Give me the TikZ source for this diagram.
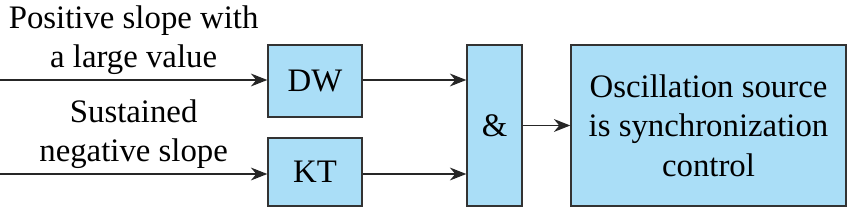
\documentclass[tikz,border=0pt]{standalone}
\usepackage{fontspec}
\setmainfont{LiberationSerif}[Extension=.ttf, UprightFont=*-Regular, BoldFont=*-Bold, ItalicFont=*-Italic, BoldItalicFont=*-BoldItalic]
\usepackage{tikz}
\usepackage{xcolor}
\usetikzlibrary{arrows.meta}

\definecolor{boxblue}{RGB}{170,222,247}

\begin{document}
\begin{tikzpicture}[
    font=\rmfamily\fontsize{14}{16.8}\selectfont,
    box_style/.style={draw=black!80, line width=0.6pt, fill=boxblue, inner sep=0pt, align=center},
    arrow_style/.style={-{Stealth[length=7pt, width=5.5pt]}, line width=0.6pt, black!85},
    label_style/.style={above, align=center, inner sep=2pt}
]
    % Fix the page size
    \useasboundingbox (0,0) rectangle (12.705,3.12);

    % Blocks
    \node (dw_box) at (4.725,1.905) [box_style, minimum width=1.41cm, minimum height=1.08cm] {DW};
    \node (kt_box) at (4.725,0.54) [box_style, minimum width=1.41cm, minimum height=1.02cm] {KT};
    \node (and_box) at (7.4175,1.2375) [box_style, minimum width=0.825cm, minimum height=2.415cm] {\&};
    \node (osc_box) at (10.6275,1.2375) [box_style, minimum width=4.125cm, minimum height=2.415cm] {Oscillation source\\is synchronization\\control};

    % Free ends of the inputs
    \coordinate (dw_in) at (0,1.92);
    \coordinate (kt_in) at (0,0.51);

    % Input arrows with their labels
    \draw[arrow_style] (dw_in) -- (dw_in -| dw_box.west) node[midway, label_style, black] {Positive slope with\\a large value};
    \draw[arrow_style] (kt_in) -- (kt_in -| kt_box.west) node[midway, label_style, black] {Sustained\\negative slope};

    % Into the AND block
    \draw[arrow_style] (dw_in -| dw_box.east) -- (dw_in -| and_box.west);
    \draw[arrow_style] (kt_in -| kt_box.east) -- (kt_in -| and_box.west);

    % Out to the oscillation source
    \draw[arrow_style] (and_box.east) -- (osc_box.west);

\end{tikzpicture}
\end{document}
